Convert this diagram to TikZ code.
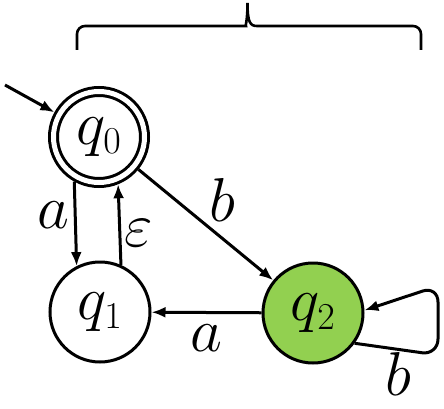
\RequirePackage{fix-cm}
\documentclass[tikz,border=0pt]{standalone}
\usepackage{amsmath}
\usetikzlibrary{arrows.meta}
\DeclareMathSizes{62}{62}{38}{28}
\definecolor{qgreen}{HTML}{92D050}

\begin{document}
\begin{tikzpicture}[x=1pt,y=-1pt,
    every node/.style={font=\fontsize{62}{62}\selectfont,inner sep=2pt},
    qstate/.style={circle,draw,line width=3pt,minimum size=100pt,inner sep=0pt},
    acc/.style={double,double distance=5pt,minimum size=91pt,outer sep=5.5pt},
    trans/.style={line width=3pt,-{Latex[length=14pt,width=11pt]}}]
                    \useasboundingbox (0,0) rectangle (444,409);
                    \draw[line width=2.6pt,rounded corners=8pt] (77,50) -- (77,26) -- (238,26) [sharp corners] .. controls (245,26) and (247.5,22) .. (247.5,3) .. controls (247.5,22) and (250,26) .. (257,26) [rounded corners=8pt] -- (421,26) -- (421,50);
                    \node[qstate,acc] (q0) at (99,137) {$q_0$};
                    \node[qstate] (q1) at (100,312) {$q_1$};
                    \node[qstate,fill=qgreen] (q2) at (313,313) {$q_2$};
                    \coordinate (start) at (5,85);
                    \draw[trans] (start) -- (q0);
                    \draw[trans] (q0.241) -- node[pos=.4,left=2pt] {$a$} (q1.117);
                    \draw[trans] (q1.66) -- node[pos=.4,right=1pt] {$\varepsilon$} (q0.292);
                    \draw[trans] (q0) -- node[above right] {$b$} (q2);
                    \draw[trans] (q2) -- node[below=9pt] {$a$} (q1);
                    \draw[trans,rounded corners=16pt] (q2.-36) -- node[pos=.52,below=0pt] {$b$} (438,355) -- (438,286) -- (q2.3);
                \end{tikzpicture}
\end{document}
